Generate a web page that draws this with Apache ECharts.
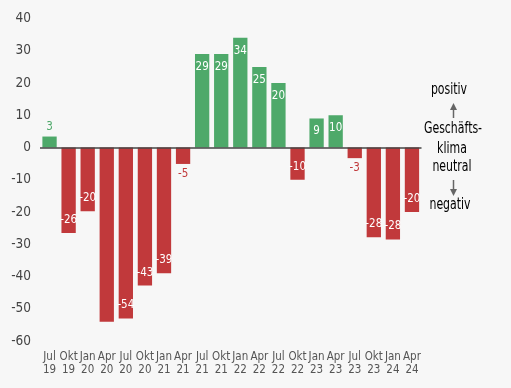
<!DOCTYPE html>
<html><head><meta charset="utf-8">
<script src="https://cdn.jsdelivr.net/npm/echarts@6/dist/echarts.min.js"></script>
<style>html,body{margin:0;padding:0;background:#f7f7f7}#c{width:511px;height:388px}</style>
</head><body><div id="c"></div>
<script>
var categories = ['Jul\n19','Okt\n19','Jan\n20','Apr\n20','Jul\n20','Okt\n20','Jan\n21','Apr\n21','Jul\n21','Okt\n21','Jan\n22','Apr\n22','Jul\n22','Okt\n22','Jan\n23','Apr\n23','Jul\n23','Okt\n23','Jan\n24','Apr\n24'];
var values = [3.4,-26.5,-19.8,-54,-53,-42.8,-39,-5.1,29,29,34,25,20,-10,9,10,-3.3,-27.8,-28.5,-20];
var labels = ['3','-26','-20','','-54','-43','-39','-5','29','29','34','25','20','-10','9','10','-3','-28','-28','-20'];
var yTicks = [-60,-50,-40,-30,-20,-10,0,10,20,30,40];
var noteLines = ['positiv','Geschäfts-','klima','neutral','negativ'];

var FONT = '"DejaVu Sans Condensed","Liberation Sans",sans-serif';
var GREEN = '#4ea96a', RED = '#c1393b';

var data = values.map(function(v, i){
  var big = Math.abs(v) >= 8;
  var pos = v >= 0 ? (big ? 'insideTop' : 'top') : (big ? 'insideBottom' : 'bottom');
  return {
    value: v,
    itemStyle: {color: v >= 0 ? GREEN : RED},
    label: {
      show: labels[i] !== '',
      position: pos,
      distance: big ? 7 : 4,
      color: big ? '#ffffff' : (v >= 0 ? GREEN : RED),
      formatter: labels[i]
    }
  };
});

function note(txt, x, y){
  return {type: 'text', x: x, y: y, scaleX: 0.76, scaleY: 1,
    style: {text: txt, x: 0, y: 0, align: 'center', verticalAlign: 'middle', font: '16px ' + FONT, fill: '#000'}};
}

var chart = echarts.init(document.getElementById('c'));
chart.setOption({
  backgroundColor: '#f7f7f7',
  animation: false,
  grid: {left: 40, right: 89.5, top: 18.5, bottom: 47},
  xAxis: {
    type: 'category',
    data: categories,
    axisLine: {show: false},
    axisTick: {show: false},
    axisLabel: {color: '#555', fontFamily: FONT, fontSize: 11.5, lineHeight: 13.5, margin: 9, interval: 0}
  },
  yAxis: {
    type: 'value',
    min: yTicks[0], max: yTicks[yTicks.length-1], interval: 10,
    splitLine: {show: false},
    axisLine: {show: false},
    axisTick: {show: false},
    axisLabel: {color: '#444', fontFamily: FONT, fontSize: 13.5, margin: 9}
  },
  series: [{
    type: 'bar',
    data: data,
    barWidth: '75%',
    label: {fontFamily: FONT, fontSize: 11.5},
    markLine: {
      silent: true, symbol: 'none',
      label: {show: false},
      lineStyle: {color: '#444', width: 1.5, type: 'solid'},
      data: [{yAxis: 0}]
    }
  }],
  graphic: [
    note(noteLines[0], 449, 90),
    {type: 'line', shape: {x1: 453.5, y1: 118, x2: 453.5, y2: 108}, style: {stroke: '#666', lineWidth: 1.5}},
    {type: 'polygon', shape: {points: [[453.5, 103], [450, 110], [457, 110]]}, style: {fill: '#666'}},
    note(noteLines[1], 453, 129),
    note(noteLines[2], 452, 148.5),
    note(noteLines[3], 452, 167),
    {type: 'line', shape: {x1: 453.5, y1: 180, x2: 453.5, y2: 190}, style: {stroke: '#666', lineWidth: 1.5}},
    {type: 'polygon', shape: {points: [[453.5, 196], [450, 189], [457, 189]]}, style: {fill: '#666'}},
    note(noteLines[4], 450, 205)
  ]
});
</script></body></html>
